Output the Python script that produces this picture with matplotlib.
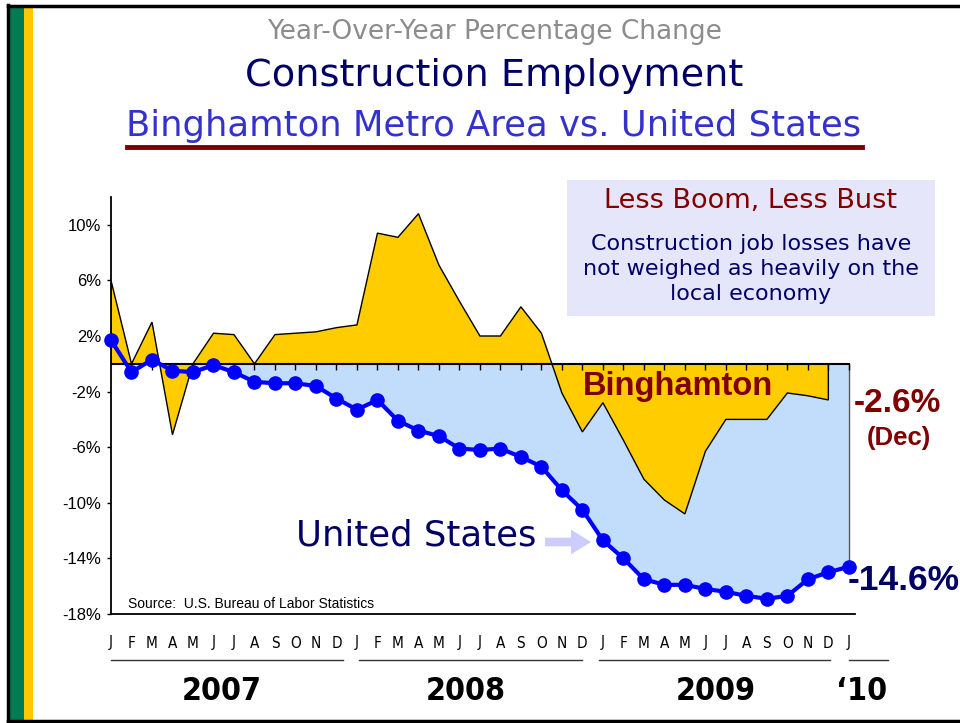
import numpy as np
import matplotlib
matplotlib.use("Agg")
import matplotlib.pyplot as plt
import matplotlib.transforms as mtransforms
from matplotlib.patches import Rectangle, FancyArrow
from matplotlib.lines import Line2D

# monthly year-over-year % change, Jan 2007 .. Jan 2010
months = ["J", "F", "M", "A", "M", "J", "J", "A", "S", "O", "N", "D"] * 3 + ["J"]
years = ["2007", "2008", "2009", "\u201810"]
us = [1.7, -0.6, 0.3, -0.5, -0.6, -0.1, -0.6, -1.3, -1.4, -1.4, -1.6, -2.5,
      -3.3, -2.6, -4.1, -4.8, -5.2, -6.1, -6.2, -6.1, -6.7, -7.4, -9.1, -10.5,
      -12.7, -14.0, -15.5, -15.9, -15.9, -16.2, -16.4, -16.7, -16.9, -16.7, -15.5, -15.0,
      -14.6]
bing = [6.0, 0.0, 3.0, -5.1, 0.0, 2.2, 2.1, 0.0, 2.1, 2.2, 2.3, 2.6,
        2.8, 9.4, 9.1, 10.8, 7.1, 4.5, 2.0, 2.0, 4.1, 2.2, -2.1, -4.9,
        -2.8, -5.5, -8.3, -9.8, -10.8, -6.3, -4.0, -4.0, -4.0, -2.1, -2.3, -2.6]
yticks = [10, 6, 2, -2, -6, -10, -14, -18]

W, H = 960, 723
def fx(px): return px / W
def fy(py): return 1 - py / H

fig = plt.figure(figsize=(9.6, 7.23), dpi=100)
fig.patch.set_facecolor("white")

# frame and side bars
fig.add_artist(Rectangle((fx(9), fy(720)), fx(15), fy(5) - fy(720), transform=fig.transFigure,
                         facecolor="#007B52", edgecolor="none"))
fig.add_artist(Rectangle((fx(24), fy(720)), fx(9), fy(5) - fy(720), transform=fig.transFigure,
                         facecolor="#FFC800", edgecolor="none"))
fig.add_artist(Line2D([fx(8), fx(960)], [fy(5.5), fy(5.5)], transform=fig.transFigure, color="black", lw=2.5))
fig.add_artist(Line2D([fx(8), fx(8)], [fy(5), fy(721)], transform=fig.transFigure, color="black", lw=2.5))
fig.add_artist(Line2D([fx(8), fx(960)], [fy(720.5), fy(720.5)], transform=fig.transFigure, color="black", lw=2.5))

# titles
fig.text(fx(494), fy(32), "Year-Over-Year Percentage Change", ha="center", va="center",
         fontsize=19, color="#8C8C8C", family="DejaVu Sans")
fig.text(fx(494), fy(76), "Construction Employment", ha="center", va="center",
         fontsize=27.5, color="#000066", family="DejaVu Sans")
fig.text(fx(494), fy(126), "Binghamton Metro Area vs. United States", ha="center", va="center",
         fontsize=25.5, color="#3333CC", family="DejaVu Sans")
fig.add_artist(Line2D([fx(127), fx(862)], [fy(147), fy(147)], transform=fig.transFigure,
                      color="#800000", lw=3.5))

ax = fig.add_axes([fx(111), fy(614), fx(855) - fx(111), fy(197) - fy(614)])
x_us = np.arange(len(us))
x_b = np.arange(len(bing))
us_a = np.array(us)

ax.fill_between(x_us, us_a, 0, where=us_a < 0, interpolate=True, color="#C2DDFB", lw=0, zorder=1)
ax.plot([x_us[-1], x_us[-1]], [0, us[-1]], color="#555555", lw=1, zorder=1.5)
ax.fill(np.r_[x_b, x_b[-1], 0], np.r_[bing, 0, 0], facecolor="#FFCC00", edgecolor="black",
        lw=1, zorder=2)
ax.plot([0, x_us[-1]], [0, 0], color="black", lw=1.5, zorder=3)
ax.vlines(x_us[1:], -0.45, 0, color="black", lw=1, zorder=3)
ax.plot(x_us, us, color="#0000FF", lw=3, marker="o", ms=9.5, zorder=5, clip_on=False)

ax.set_xlim(0, 36.3)
ax.set_ylim(-18, 12)
ax.set_yticks(yticks)
ax.set_yticklabels([f"{v}%" for v in yticks], family="Liberation Sans", fontsize=12)
ax.set_xticks([])
ax.tick_params(axis="y", length=3, width=1, direction="out", pad=4)
for s in ["top", "right"]:
    ax.spines[s].set_visible(False)
for s in ["left", "bottom"]:
    ax.spines[s].set_linewidth(1.3)
ax.set_facecolor("none")

# month letters, year underlines and year labels
tr = mtransforms.blended_transform_factory(ax.transData, fig.transFigure)
for i, m in enumerate(months):
    ax.text(i, fy(643), m, transform=tr, ha="center", va="center", fontsize=11,
            family="DejaVu Sans", fontstretch="condensed", clip_on=False)
for x0, x1 in [(0, 11.3), (12.1, 23.0), (23.8, 35.1), (36.0, 37.9)]:
    ax.add_line(Line2D([x0, x1], [fy(660), fy(660)], transform=tr, color="#333333", lw=1, clip_on=False))
for xc, lab in zip([5.4, 17.3, 29.5, 36.6], years):
    ax.text(xc, fy(692), lab, transform=tr, ha="center", va="center", fontsize=23, fontweight="bold",
            family="DejaVu Sans", fontstretch="condensed", clip_on=False)

# annotation box
fig.add_artist(Rectangle((fx(567), fy(316)), fx(935) - fx(567), fy(180) - fy(316),
                         transform=fig.transFigure, facecolor="#E6E6FA", edgecolor="none"))
fig.text(fx(751), fy(201), "Less Boom, Less Bust", ha="center", va="center", fontsize=19.5,
         color="#800000", family="DejaVu Sans")
fig.text(fx(751), fy(269), "Construction job losses have\nnot weighed as heavily on the\nlocal economy",
         ha="center", va="center", fontsize=16, color="#000066", family="DejaVu Sans",
         linespacing=1.3)

# labels
fig.text(fx(678), fy(387), "Binghamton", ha="center", va="center", fontsize=23.5, fontweight="bold",
         color="#800000", family="Liberation Sans")
fig.text(fx(416), fy(535), "United States", ha="center", va="center", fontsize=25.5,
         color="#000066", family="DejaVu Sans")
fig.add_artist(FancyArrow(fx(545), fy(542), fx(46), 0, width=0.012, head_width=0.034,
                          head_length=fx(20), length_includes_head=True, transform=fig.transFigure,
                          facecolor="#CCCCFF", edgecolor="none"))
fig.text(fx(897), fy(403), "-2.6%", ha="center", va="center", fontsize=24, fontweight="bold",
         color="#800000", family="Liberation Sans")
fig.text(fx(899), fy(438), "(Dec)", ha="center", va="center", fontsize=18.5, fontweight="bold",
         color="#800000", family="Liberation Sans")
fig.text(fx(904), fy(580), "-14.6%", ha="center", va="center", fontsize=25.5, fontweight="bold",
         color="#000066", family="Liberation Sans")
fig.text(fx(128), fy(604), "Source:  U.S. Bureau of Labor Statistics", ha="left", va="center",
         fontsize=10, color="black", family="Liberation Sans")

fig.savefig("out.png", dpi=100)
